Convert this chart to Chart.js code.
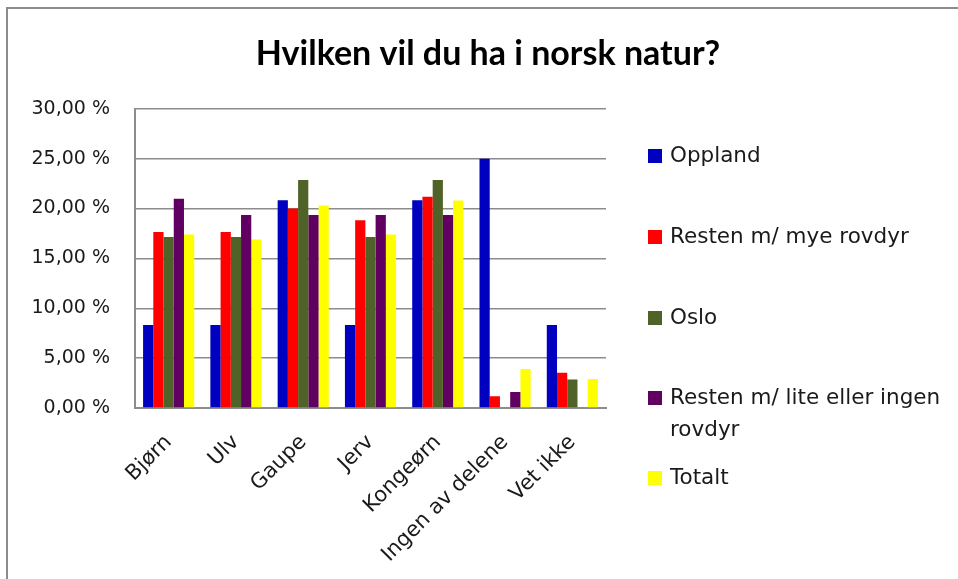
<!DOCTYPE html>
<html>
<head>
<meta charset="utf-8">
<script src="https://cdn.jsdelivr.net/npm/chart.js@4"></script>
<style>
  html, body { margin: 0; padding: 0; background: #fff; overflow: hidden; }
  #wrap { width: 958px; height: 579px; position: relative; overflow: hidden; }
  #frame {
    position: absolute; left: 6px; top: 7px; width: 1000px; height: 1000px;
    border-left: 2px solid #8c8c8c; border-top: 2px solid #8c8c8c;
    pointer-events: none;
  }
</style>
</head>
<body>
<div id="wrap"><canvas id="chart" width="958" height="579"></canvas><div id="frame"></div></div>
<script>
// ── Data ──
const categories = ['Bjørn', 'Ulv', 'Gaupe', 'Jerv', 'Kongeørn', 'Ingen av delene', 'Vet ikke'];
const seriesNames = ['Oppland', 'Resten m/ mye rovdyr', 'Oslo', 'Resten m/ lite eller ingen rovdyr', 'Totalt'];
const oppland    = [8.33, 8.33, 20.83, 8.33, 20.83, 25.00, 8.33];
const restenMye  = [17.65, 17.65, 20.00, 18.82, 21.18, 1.18, 3.53];
const oslo       = [17.14, 17.14, 22.86, 17.14, 22.86, 0, 2.86];
const restenLite = [20.97, 19.35, 19.35, 19.35, 19.35, 1.61, 0];
const totalt     = [17.4, 16.9, 20.3, 17.4, 20.8, 3.9, 2.9];
const yTicks = [0, 5, 10, 15, 20, 25, 30];

const colors = ['#0000c0', '#ff0000', '#4f6228', '#600060', '#ffff00'];
const seriesValues = [oppland, restenMye, oslo, restenLite, totalt];

const fmtPct = v => v.toFixed(2).replace('.', ',') + ' %';

// ── Legend on the right (canvas, wraps long labels) ──
const sideLegend = {
  id: 'sideLegend',
  afterDraw(chart) {
    const ctx = chart.ctx;
    const x0 = chart.chartArea.right + 42;
    const rows = [156, 237, 318, 398, 478];
    const maxW = 272;
    ctx.save();
    ctx.font = '21.5px "DejaVu Sans"';
    ctx.textBaseline = 'middle';
    chart.data.datasets.forEach((ds, i) => {
      const y = rows[i];
      ctx.fillStyle = ds.backgroundColor;
      ctx.fillRect(x0, y - 7, 14, 14);
      ctx.fillStyle = '#1a1a1a';
      const words = ds.label.split(' ');
      const lines = [];
      let cur = '';
      words.forEach(w => {
        const t = cur ? cur + ' ' + w : w;
        if (ctx.measureText(t).width > maxW && cur) { lines.push(cur); cur = w; }
        else cur = t;
      });
      lines.push(cur);
      lines.forEach((ln, k) => ctx.fillText(ln, x0 + 22, y + k * 32));
    });
    ctx.restore();
  }
};

const ctx = document.getElementById('chart').getContext('2d');
new Chart(ctx, {
  type: 'bar',
  data: {
    labels: categories,
    datasets: seriesNames.map((name, i) => ({
      label: name,
      data: seriesValues[i],
      backgroundColor: colors[i],
      borderWidth: 0
    }))
  },
  options: {
    responsive: false,
    animation: false,
    devicePixelRatio: 1,
    layout: { padding: { left: 18, right: 0, top: 0, bottom: 0 } },
    categoryPercentage: 0.76,
    barPercentage: 1.0,
    plugins: {
      legend: { display: false },
      tooltip: { enabled: false },
      title: {
        display: true,
        text: 'Hvilken vil du ha i norsk natur?',
        color: '#000',
        font: { family: 'Lato', size: 34, weight: 'bold' },
        padding: { top: 34, bottom: 34 }
      }
    },
    scales: {
      x: {
        grid: { display: false },
        border: { color: '#8c8c8c', width: 2 },
        ticks: {
          color: '#1a1a1a',
          font: { family: 'DejaVu Sans', size: 21 },
          minRotation: 45, maxRotation: 45,
          autoSkip: false,
          padding: 14
        },
        afterFit: s => { s.height = 171; }
      },
      y: {
        min: 0, max: 30,
        afterBuildTicks: s => { s.ticks = yTicks.map(v => ({ value: v })); },
        grid: { color: '#8c8c8c', lineWidth: 1.5, drawTicks: false },
        border: { color: '#8c8c8c', width: 2 },
        ticks: {
          color: '#1a1a1a',
          font: { family: 'DejaVu Sans', size: 19 },
          padding: 25,
          callback: v => fmtPct(v)
        },
        afterFit: s => { s.width = 117; }
      },
      side: {
        position: 'right',
        display: true,
        grid: { display: false, drawOnChartArea: false },
        border: { display: false },
        ticks: { display: false },
        afterFit: s => { s.width = 352; }
      }
    }
  },
  plugins: [sideLegend]
});
</script>
</body>
</html>
